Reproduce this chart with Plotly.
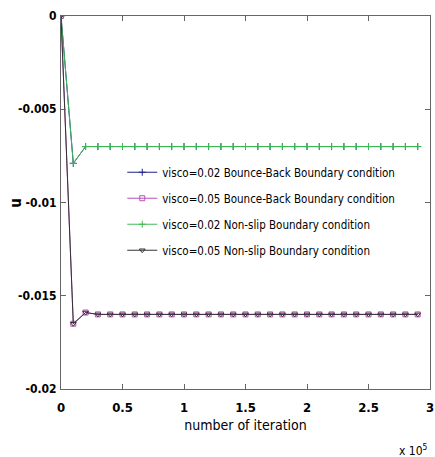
import plotly.graph_objects as go

iterations = [i * 10000 for i in range(30)]
u_visco002_bounce = [0.0, -0.0079, -0.0070] + [-0.0070] * 27
u_visco005_bounce = [0.0, -0.0165, -0.0159] + [-0.0160] * 27
u_visco002_noslip = [0.0, -0.0079, -0.0070] + [-0.0070] * 27
u_visco005_noslip = [0.0, -0.0165, -0.0159] + [-0.0160] * 27

names = ["visco=0.02 Bounce-Back Boundary condition",
         "visco=0.05 Bounce-Back Boundary condition",
         "visco=0.02 Non-slip Boundary condition",
         "visco=0.05 Non-slip Boundary condition"]

x_tickvals = [0, 50000, 100000, 150000, 200000, 250000, 300000]
x_ticktext = ["0", "0.5", "1", "1.5", "2", "2.5", "3"]
y_tickvals = [0, -0.005, -0.01, -0.015, -0.02]
y_ticktext = ["0", "-0.005", "-0.01", "-0.015", "-0.02"]

FONT = "DejaVu Sans Condensed"

series = [
    (u_visco002_bounce, "#1f1f8f", "cross-thin-open"),
    (u_visco005_bounce, "#b84fb8", "square-open"),
    (u_visco002_noslip, "#3dbb55", "cross-thin-open"),
    (u_visco005_noslip, "#333333", "triangle-down-open"),
]

fig = go.Figure()
for i, ((vals, col, sym), nm) in enumerate(zip(series, names)):
    fig.add_trace(go.Scatter(
        x=iterations, y=vals, name=nm, mode="lines+markers",
        legendgroup="g%d" % i,
        line=dict(color=col, width=1),
        marker=dict(symbol=sym, size=5, color=col, line=dict(color=col, width=1)),
    ))

fig.update_layout(
    width=435, height=457,
    margin=dict(l=61, r=5, t=16, b=68, autoexpand=False),
    paper_bgcolor="white", plot_bgcolor="white",
    font=dict(family=FONT, size=12, color="black"),
    showlegend=True,
    legend=dict(x=0.166, y=0.62, xanchor="left", yanchor="top",
                bgcolor="rgba(0,0,0,0)", borderwidth=0,
                font=dict(family=FONT, size=11.5, color="black"),
                tracegroupgap=7, itemwidth=30),
    xaxis=dict(range=[0, 300000], tickvals=x_tickvals, ticktext=x_ticktext,
               showgrid=False, zeroline=False, showline=True, mirror="ticks",
               linecolor="#666666", linewidth=1, ticks="inside", ticklen=5,
               tickcolor="#666666", ticklabelstandoff=6,
               tickfont=dict(family=FONT, size=13, color="black", weight="bold"),
               title=dict(text="number of iteration", standoff=6,
                          font=dict(family=FONT, size=14, color="black"))),
    yaxis=dict(range=[-0.02, 0], tickvals=y_tickvals, ticktext=y_ticktext,
               showgrid=False, zeroline=False, showline=True, mirror="ticks",
               linecolor="#666666", linewidth=1, ticks="inside", ticklen=5,
               tickcolor="#666666", ticklabelstandoff=1,
               tickfont=dict(family=FONT, size=12, color="black", weight="bold")),
    annotations=[
        dict(text="u", xref="paper", yref="paper", x=-0.124, y=0.5,
             xanchor="center", yanchor="middle", textangle=-90,
             showarrow=False,
             font=dict(family=FONT, size=15, color="black", weight="bold")),
        dict(text="x 10<sup>5</sup>", xref="paper", yref="paper",
             x=1.0, y=-0.19, xanchor="right", yanchor="bottom",
             showarrow=False,
             font=dict(family=FONT, size=12, color="black")),
    ],
)

fig.write_html("out.html", config={"displayModeBar": False},
               post_script="document.body.style.margin='0';")
